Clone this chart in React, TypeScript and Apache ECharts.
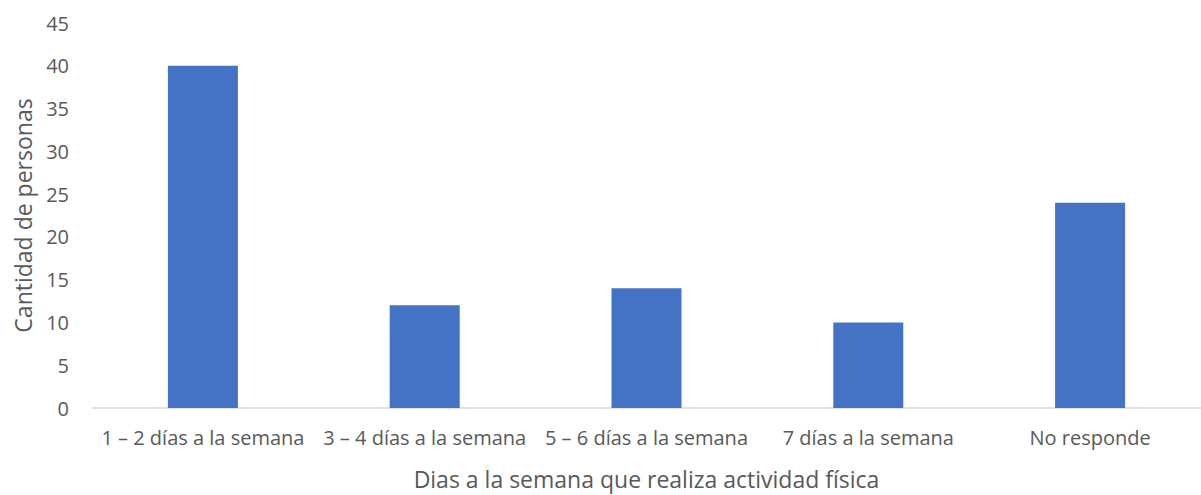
import React, { useEffect, useRef } from "react";
import * as echarts from "echarts";

const categories = [
  "1 – 2 días a la semana",
  "3 – 4 días a la semana",
  "5 – 6 días a la semana",
  "7 días a la semana",
  "No responde",
];
const values = [40, 12, 14, 10, 24];
const yMin = 0;
const yMax = 45;
const yInterval = 5;

const FONT = "'Open Sans', 'Noto Sans', sans-serif";

export default function App() {
  const ref = useRef<HTMLDivElement>(null);
  useEffect(() => {
    document.body.style.margin = "0";
    const chart = echarts.init(ref.current!, null, { renderer: "svg" });
    chart.setOption({
      animation: false,
      grid: { left: 92, top: 23, width: 1119, height: 388, containLabel: false },
      xAxis: {
        type: "category",
        data: categories,
        name: "Dias a la semana que realiza actividad física",
        nameLocation: "middle",
        nameGap: 59,
        nameTextStyle: { color: "#595959", fontSize: 23, fontFamily: FONT },
        axisLine: { lineStyle: { color: "#d9d9d9", width: 1.5 } },
        axisTick: { show: false },
        axisLabel: { color: "#595959", fontSize: 20, fontFamily: FONT, margin: 19, interval: 0 },
      },
      yAxis: {
        type: "value",
        min: yMin,
        max: yMax,
        interval: yInterval,
        name: "Cantidad de personas",
        nameLocation: "middle",
        nameGap: 58,
        nameTextStyle: { color: "#595959", fontSize: 23, fontFamily: FONT },
        axisLine: { show: false },
        axisTick: { show: false },
        splitLine: { show: false },
        axisLabel: { color: "#595959", fontSize: 20, fontFamily: FONT, margin: 23 },
      },
      series: [
        {
          type: "bar",
          data: values,
          barWidth: 70,
          itemStyle: { color: "#4472c4" },
        },
      ],
    });
    return () => chart.dispose();
  }, []);
  return <div ref={ref} style={{ width: 1201, height: 495 }} />;
}
